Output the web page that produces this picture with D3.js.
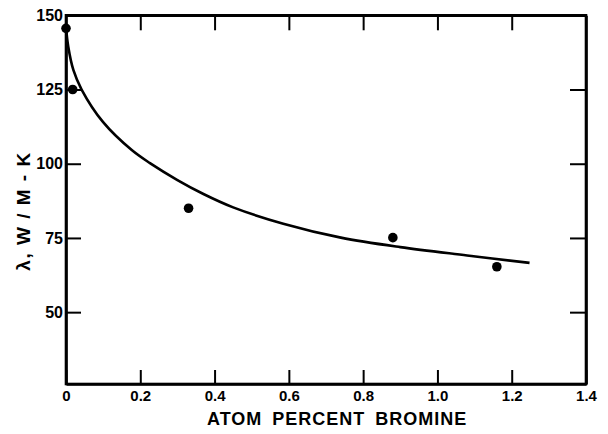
<!DOCTYPE html>
<html>
<head>
<meta charset="utf-8">
<script src="https://cdn.jsdelivr.net/npm/d3@7"></script>
<style>
  html, body { margin: 0; padding: 0; background: #fff; }
  svg { display: block; }
  text { font-family: "Liberation Sans", Arial, sans-serif; font-weight: bold; fill: #000; }
</style>
</head>
<body>
<script>
// Measured thermal conductivity vs. bromine content
const measuredX = [0.0, 0.018, 0.33, 0.88, 1.16];
const measuredY = [145.6, 125, 85, 75.1, 65.3];

// Smooth trend curve drawn through the measurements
const curveX = [0, 0.006, 0.02, 0.042, 0.1, 0.177, 0.226, 0.3, 0.37, 0.45, 0.585, 0.74, 0.9, 1.08, 1.248];
const curveY = [146, 139.5, 131.5, 125, 114, 104.6, 100.2, 94.5, 89.8, 85.3, 79.8, 75.1, 71.9, 69.1, 66.6];

// Axis ticks and labels
const xTicks = [0, 0.2, 0.4, 0.6, 0.8, 1.0, 1.2, 1.4];
const xTickLabels = ["0", "0.2", "0.4", "0.6", "0.8", "1.0", "1.2", "1.4"];
const yTicks = [50, 75, 100, 125, 150];
const xDomain = [0, 1.4];
const yDomain = [25.8, 150];
const xTitle = "ATOM PERCENT BROMINE";
const yTitle = "λ,  W / M - K";

const W = 608, H = 434;
const margin = { top: 15.3, right: 22, bottom: 50, left: 66 };
const innerW = W - margin.left - margin.right;
const innerH = H - margin.top - margin.bottom;

const svg = d3.select("body").append("svg")
  .attr("width", W).attr("height", H);

const plot = svg.append("g").attr("transform", `translate(${margin.left},${margin.top})`);

const x = d3.scaleLinear().domain(xDomain).range([0, innerW]);
const y = d3.scaleLinear().domain(yDomain).range([innerH, 0]);

// Bottom axis: inward ticks with labels
const axBottom = plot.append("g")
  .attr("transform", `translate(0,${innerH})`)
  .call(d3.axisBottom(x).tickValues(xTicks)
    .tickFormat((d, i) => xTickLabels[i])
    .tickSizeInner(-14).tickSizeOuter(0).tickPadding(6));

// Top axis: inward ticks only
const axTop = plot.append("g")
  .call(d3.axisTop(x).tickValues(xTicks.slice(1, -1))
    .tickFormat("").tickSizeInner(-15).tickSizeOuter(0));

// Left axis: inward ticks with labels
const axLeft = plot.append("g")
  .call(d3.axisLeft(y).tickValues(yTicks)
    .tickSizeInner(-15).tickSizeOuter(0).tickPadding(3));

// Right axis: inward ticks only
const axRight = plot.append("g")
  .attr("transform", `translate(${innerW},0)`)
  .call(d3.axisRight(y).tickValues(yTicks.slice(0, -1))
    .tickFormat("").tickSizeInner(-16).tickSizeOuter(0));

[axBottom, axTop, axLeft, axRight].forEach(a => {
  a.select(".domain").attr("stroke", "#000").attr("stroke-width", 2.6);
  a.selectAll(".tick line").attr("stroke", "#000").attr("stroke-width", 2);
  a.selectAll(".tick text")
    .style("font-family", "'Liberation Sans', Arial, sans-serif")
    .style("font-weight", "bold")
    .attr("fill", "#000");
});
axBottom.selectAll(".tick text").style("font-size", "15px");
axLeft.selectAll(".tick text").style("font-size", "16px");

// Square off the frame corners
plot.append("rect")
  .attr("x", 0).attr("y", 0).attr("width", innerW).attr("height", innerH)
  .attr("fill", "none").attr("stroke", "#000").attr("stroke-width", 2.6);

// Trend curve
const line = d3.line()
  .x((d, i) => x(curveX[i]))
  .y((d, i) => y(curveY[i]))
  .curve(d3.curveCatmullRom.alpha(0.5));

plot.append("path")
  .datum(curveX)
  .attr("d", line)
  .attr("fill", "none")
  .attr("stroke", "#000")
  .attr("stroke-width", 2.6)
  .attr("stroke-linejoin", "round");

// Data points
plot.selectAll("circle.pt")
  .data(measuredX)
  .join("circle")
  .attr("class", "pt")
  .attr("cx", d => x(d))
  .attr("cy", (d, i) => y(measuredY[i]))
  .attr("r", 4.8)
  .attr("fill", "#000");

// Axis titles
svg.append("text")
  .attr("x", margin.left + x(0.73))
  .attr("y", 425)
  .attr("text-anchor", "middle")
  .style("font-size", "18px")
  .style("letter-spacing", "1px")
  .style("word-spacing", "4px")
  .text(xTitle);

svg.append("text")
  .attr("transform", `translate(30,211) rotate(-90)`)
  .attr("text-anchor", "middle")
  .style("font-size", "19px")
  .style("letter-spacing", "1.5px")
  .text(yTitle);
</script>
</body>
</html>
